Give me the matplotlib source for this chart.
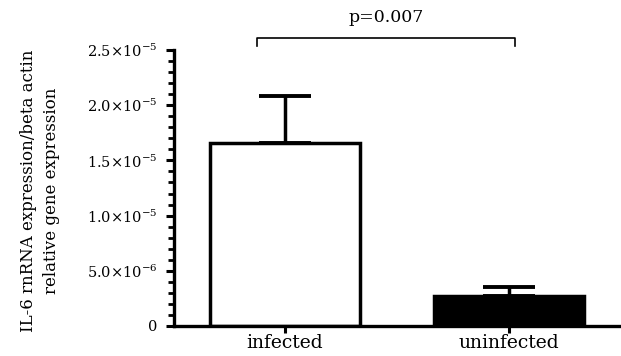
import matplotlib.pyplot as plt
from matplotlib.ticker import FixedLocator, MultipleLocator

groups = ["infected", "uninfected"]
means = [1.655e-5, 2.72e-6]
sem = [0.43e-5, 0.81e-6]
bar_colors = ["white", "black"]
ytick_vals = [0, 5e-6, 1e-5, 1.5e-5, 2e-5, 2.5e-5]
ytick_labels = ["0", "5.0×10$^{-6}$", "1.0×10$^{-5}$", "1.5×10$^{-5}$",
                "2.0×10$^{-5}$", "2.5×10$^{-5}$"]
p_text = "p=0.007"

plt.rcParams["font.family"] = ["DejaVu Serif"]
plt.rcParams["mathtext.fontset"] = "dejavuserif"

fig = plt.figure(figsize=(6.21, 3.56), dpi=100)
ax = fig.add_axes([0.280, 0.0843, 0.72, 0.7753])

x = list(range(len(groups)))
ax.bar(x, means, width=0.67, color=bar_colors, edgecolor="black",
       linewidth=2.5, zorder=2)
ax.errorbar(x, means, yerr=[[0, 0], sem], fmt="none", ecolor="black",
            elinewidth=2.5, capsize=19, capthick=2.8, zorder=1)

ax.set_xlim(-0.496, 1.5)
ax.set_ylim(0, 2.5e-5)
ax.set_xticks(x)
ax.set_xticklabels(groups, fontsize=13.5)
ax.yaxis.set_major_locator(FixedLocator(ytick_vals))
ax.set_yticklabels(ytick_labels, fontsize=10.5)
ax.yaxis.set_minor_locator(MultipleLocator(1e-6))

ax.spines["top"].set_visible(False)
ax.spines["right"].set_visible(False)
ax.spines["left"].set_linewidth(2.4)
ax.spines["bottom"].set_linewidth(2.4)
ax.tick_params(axis="y", which="major", length=6, width=2.2, pad=6)
ax.tick_params(axis="y", which="minor", length=4, width=2)
ax.tick_params(axis="x", which="major", length=5, width=2.2, pad=1)

ax.set_ylabel("IL-6 rnRNA expression/beta actin\nrelative gene expression",
              fontsize=12, linespacing=1.45)
ax.yaxis.set_label_coords(-0.255, 0.489)

# significance bracket
bx0, bx1 = -0.125, 1.027
by, bdrop = 2.61e-5, 0.07e-5
ax.plot([bx0, bx0, bx1, bx1], [by - bdrop, by, by, by - bdrop],
        color="black", linewidth=1.2, clip_on=False)
ax.text((bx0 + bx1) / 2, 2.72e-5, p_text, ha="center", va="bottom",
        fontsize=12.5)

fig.savefig("out.png", dpi=100)
